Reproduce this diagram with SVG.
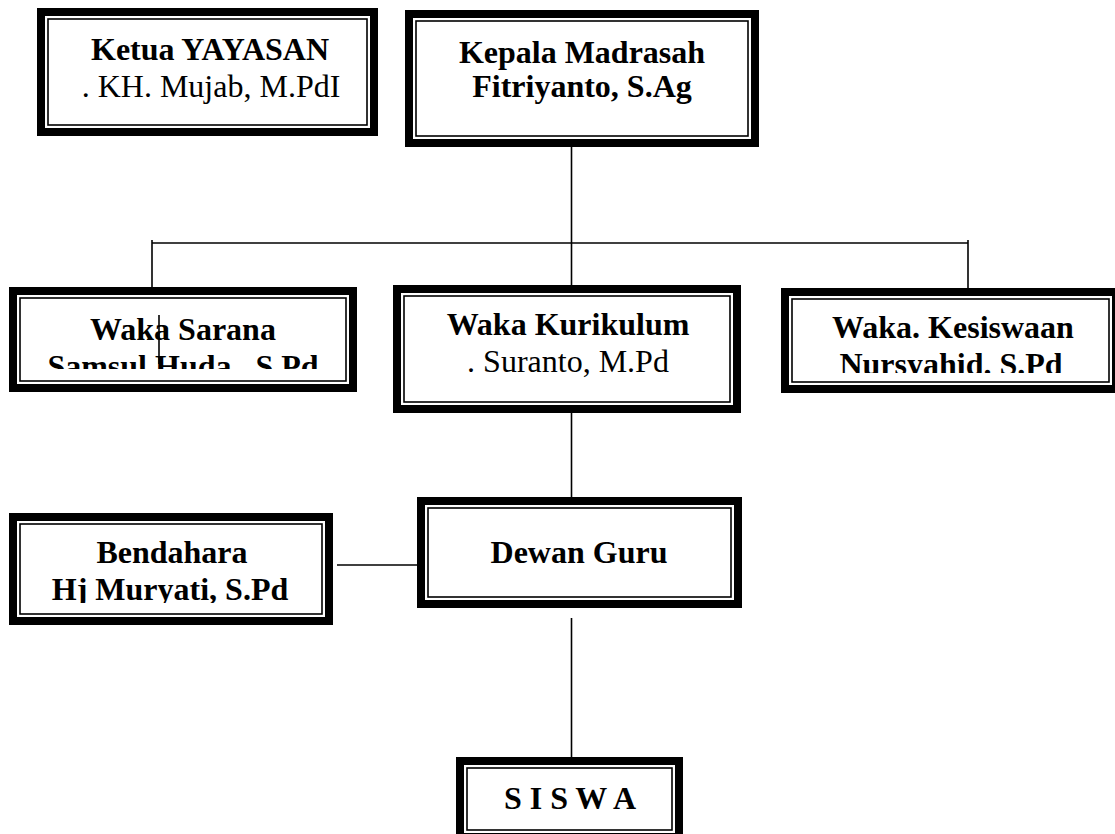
<svg xmlns="http://www.w3.org/2000/svg" width="1115" height="834" viewBox="0 0 1115 834">
  <style>
    .thick { fill: #ffffff; stroke: #000000; stroke-width: 8; }
    .thin { fill: none; stroke: #000000; stroke-width: 1.6; }
    .t { font-family: "Liberation Serif", "Times New Roman", serif; font-size: 32px; fill: #000000; text-anchor: middle; }
    .b { font-weight: bold; }
    .conn line { stroke: #000000; stroke-width: 1.6; }
  </style>
  <defs>
    <clipPath id="clipSarana"><rect x="0" y="280" width="370" height="89"/></clipPath>
    <clipPath id="clipKesiswaan"><rect x="770" y="280" width="345" height="93"/></clipPath>
    <clipPath id="clipBendahara"><rect x="0" y="505" width="340" height="98"/></clipPath>
  </defs>
  <rect x="0" y="0" width="1115" height="834" fill="#ffffff"/>

  <g id="ketua">
    <rect class="thick" x="41" y="12" width="333" height="120"/>
    <rect class="thin" x="48" y="19" width="319" height="106"/>
    <text class="t b" x="210" y="60">Ketua YAYASAN</text>
    <text class="t" x="211" y="97">. KH. Mujab, M.PdI</text>
  </g>

  <g id="kepala">
    <rect class="thick" x="409" y="14" width="346" height="129"/>
    <rect class="thin" x="416" y="21" width="332" height="115"/>
    <text class="t b" x="582" y="63">Kepala Madrasah</text>
    <text class="t b" x="582" y="97">Fitriyanto, S.Ag</text>
  </g>

  <g id="waka-sarana">
    <rect class="thick" x="13" y="291" width="340" height="97"/>
    <rect class="thin" x="20" y="298" width="326" height="83"/>
    <text class="t b" x="183" y="340">Waka Sarana</text>
    <text class="t b" x="183" y="377" clip-path="url(#clipSarana)">Samsul Huda . S.Pd</text>
  </g>

  <g id="waka-kurikulum">
    <rect class="thick" x="397" y="289" width="340" height="120"/>
    <rect class="thin" x="404" y="296" width="326" height="106"/>
    <text class="t b" x="568" y="335">Waka Kurikulum</text>
    <text class="t" x="568" y="372">. Suranto, M.Pd</text>
  </g>

  <g id="waka-kesiswaan">
    <rect class="thick" x="785" y="292" width="331" height="97"/>
    <rect class="thin" x="792" y="299" width="317" height="83"/>
    <text class="t b" x="953" y="338">Waka. Kesiswaan</text>
    <text class="t b" x="951" y="375" clip-path="url(#clipKesiswaan)">Nursyahid. S.Pd</text>
  </g>

  <g id="bendahara">
    <rect class="thick" x="13" y="517" width="316" height="104"/>
    <rect class="thin" x="20" y="524" width="302" height="90"/>
    <text class="t b" x="172" y="563">Bendahara</text>
    <text class="t b" x="170" y="600" clip-path="url(#clipBendahara)">Hj Muryati, S.Pd</text>
  </g>

  <g id="dewan-guru">
    <rect class="thick" x="421" y="501" width="317" height="103"/>
    <rect class="thin" x="428" y="508" width="303" height="89"/>
    <text class="t b" x="579" y="563">Dewan Guru</text>
  </g>

  <g id="siswa">
    <rect class="thick" x="460" y="761" width="219" height="76"/>
    <rect class="thin" x="467" y="768" width="205" height="62"/>
    <text class="t b" x="570" y="809">S I S W A</text>
  </g>

  <g id="connectors" class="conn">
    <line x1="571.5" y1="147" x2="571.5" y2="285"/>
    <line x1="152" y1="243" x2="968" y2="243"/>
    <line x1="152" y1="240" x2="152" y2="287"/>
    <line x1="968" y1="240" x2="968" y2="288"/>
    <line x1="159" y1="315" x2="159" y2="364"/>
    <line x1="571.5" y1="413" x2="571.5" y2="497"/>
    <line x1="337" y1="565" x2="417" y2="565"/>
    <line x1="571.5" y1="618" x2="571.5" y2="757"/>
  </g>
</svg>
